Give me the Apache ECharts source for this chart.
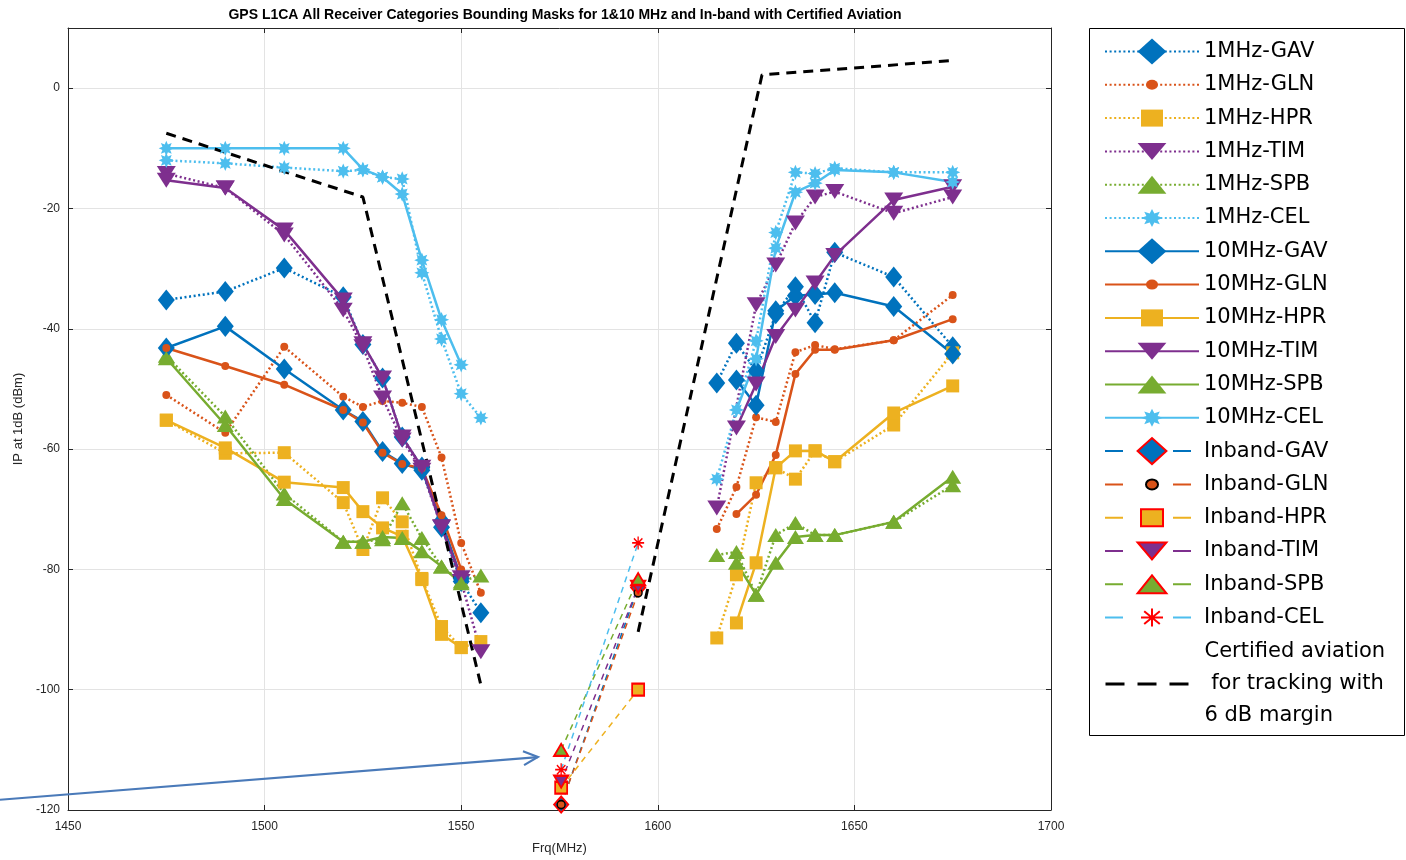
<!DOCTYPE html>
<html><head><meta charset="utf-8">
<script src="https://cdn.jsdelivr.net/npm/echarts@6/dist/echarts.min.js"></script>
<style>html,body{margin:0;padding:0;background:#fff}#c{width:1406px;height:860px}</style>
</head><body><div id="c"></div>
<script>
// ---------------- DATA ----------------
const freqLeft  = [1475, 1490, 1505, 1520, 1525, 1530, 1535, 1540, 1545, 1550, 1555];
const freqRight = [1615, 1620, 1625, 1630, 1635, 1640, 1645, 1660, 1675];

const gav1L  = [-35.2, -33.8, -29.9, -34.7, -42.6, -48.2, -58.0, -63.0, -73.0, -82.0, -87.2];
const gav1R  = [-49.0, -42.4, -47.0, -37.5, -33.0, -39.0, -27.3, -31.4, -43.0];
const gav10L = [-43.2, -39.6, -46.7, -53.5, -55.4, -60.4, -62.4, -63.5, -72.0, -81.5, null];
const gav10R = [null, -48.5, -52.7, -37.0, -34.5, -34.3, -34.0, -36.3, -44.2];

const gln1L  = [-51.0, -57.3, -43.0, -51.3, -53.0, -52.0, -52.3, -53.0, -61.4, -75.6, -83.9];
const gln1R  = [-73.3, -66.3, -54.7, -55.5, -43.9, -42.7, -43.4, -41.9, -34.4];
const gln10L = [-43.2, -46.2, -49.3, -53.5, -55.6, -60.6, -62.5, -63.2, -71.0, -80.0, null];
const gln10R = [null, -70.8, -67.6, -61.0, -47.5, -43.5, -43.5, -41.9, -38.4];

const hpr1L  = [-55.2, -60.7, -60.6, -68.9, -76.7, -68.1, -72.1, -81.5, -89.5, -93.0, -92.0];
const hpr1R  = [-91.4, -80.9, -65.6, -63.1, -65.0, -60.3, -62.1, -56.0, -44.0];
const hpr10L = [-55.2, -59.8, -65.5, -66.4, -70.4, -73.1, -74.5, -81.7, -90.8, -93.0, null];
const hpr10R = [null, -88.9, -78.9, -63.1, -60.3, -60.3, -62.1, -54.0, -49.5];

const tim1L  = [-14.2, -16.6, -24.4, -36.9, -43.0, -51.5, -58.5, -63.5, -73.0, -82.0, -93.7];
const tim1R  = [-69.8, null, -36.0, -29.4, -22.4, -18.1, -17.2, -20.8, -18.1];
const tim10L = [-15.3, -16.6, -23.6, -35.2, -42.5, -48.2, -58.0, -63.0, -72.9, -81.4, null];
const tim10R = [null, -56.5, -49.2, -41.3, -36.9, -32.4, -27.8, -18.6, -16.4];

const spb1L  = [-44.5, -54.6, -67.4, -75.4, -75.4, -75.0, -69.0, -74.8, -79.5, -82.0, -81.0];
const spb1R  = [-77.6, -77.1, -84.2, -74.3, -72.3, -74.3, -74.3, -72.1, -66.0];
const spb10L = [-44.9, -56.0, -68.3, -75.4, -75.4, -74.6, -74.8, -77.0, -79.5, -82.3, null];
const spb10R = [null, -78.9, -84.2, -78.9, -74.6, -74.3, -74.3, -72.1, -64.6];

const cel1L  = [-12.0, -12.5, -13.2, -13.8, -13.6, -14.8, -15.1, -30.7, -41.7, -50.8, -54.8];
const cel1R  = [-65.0, null, -42.0, -24.0, -14.0, -14.2, -13.3, -14.0, -14.0];
const cel10L = [-10.0, -10.0, -10.0, -10.0, -13.5, -14.8, -17.6, -28.6, -38.5, -46.0, null];
const cel10R = [null, -53.5, -45.0, -26.6, -17.3, -15.8, -13.6, -14.0, -15.6];

const inbandFreq = [1575.42, 1595];
const inbandGAV = [-119.1, -83.0];
const inbandGLN = [-119.1, -83.9];
const inbandHPR = [-116.3, -100.0];
const inbandTIM = [-115.3, -82.9];
const inbandSPB = [-110.0, -81.6];
const inbandCEL = [-113.3, -75.6];

const certFreqL = [1475, 1525, 1555];
const certL     = [-7.5, -18.1, -99.2];
const certFreqR = [1595, 1626.5, 1675];
const certR     = [-90.4, 2.2, 4.6];

const xTicks = [1450, 1700, 50];
const yTicks = [-120, 10, 20];

const arrowFrom = [1432.7, -118.3];
const arrowTo   = [1569.5, -111.2];

const titleText = 'GPS L1CA All Receiver Categories Bounding Masks for 1&10 MHz and In-band with Certified Aviation';
const certName = 'Certified aviation\n for tracking with\n6 dB margin';

// ---------------- STYLE ----------------
const colors = {GAV:'#0072BD', GLN:'#D95319', HPR:'#EDB120', TIM:'#7E2F8E', SPB:'#77AC30', CEL:'#4DBEEE'};
const FR = 'M-14.4,-14.4M14.4,14.4';
function starPath(n, rx, ry, inner){
  let s = '';
  for (let i = 0; i < 2*n; i++){
    const a = Math.PI * i / n - Math.PI/2;
    const k = i % 2 ? inner : 1;
    s += (i ? 'L' : 'M') + (rx*k*Math.cos(a)).toFixed(2) + ',' + (ry*k*Math.sin(a)).toFixed(2);
  }
  return s + 'Z';
}
const shapes = {
  GAV: 'path://' + FR + 'M-14.4,0L0,-13L14.4,0L0,13Z',
  GLN: 'path://' + FR + 'M-6,0A6,5,0,1,1,6,0A6,5,0,1,1,-6,0Z',
  HPR: 'path://' + FR + 'M-11,-8.5L11,-8.5L11,8.5L-11,8.5Z',
  TIM: 'path://' + FR + 'M-14.4,-8.5L14.4,-8.5L0,8.5Z',
  SPB: 'path://' + FR + 'M-14.4,9L14.4,9L0,-9Z',
  CEL: 'path://' + FR + starPath(8, 11, 9, 0.55),
  AST: 'path://' + FR + 'M0,-9L0,9M-11,0L11,0M-7.8,-6.4L7.8,6.4M-7.8,6.4L7.8,-6.4'
};
const plotSize = {GAV:[17,23.3], GLN:[19,23], HPR:[17,22], TIM:[19,25.4], SPB:[17,22.4], CEL:[20,24.5]};
const inbandSize = {GAV:[14,17.7], GLN:[19,23], HPR:[15.7,20.3], TIM:[14,20.3], SPB:[14,19.2], CEL:[15.7,20.8]};

function pts(fl, vl, fr, vr){
  const d = [];
  fl.forEach((f,i)=>{ if (vl[i] != null) d.push([f, vl[i]]); });
  d.push([1590, '-']);
  fr.forEach((f,i)=>{ if (vr[i] != null) d.push([f, vr[i]]); });
  return d;
}
function zip(f, v){ return f.map((x,i)=>[x, v[i]]); }

const dataSets = {
  GAV: [gav1L, gav1R, gav10L, gav10R, inbandGAV],
  GLN: [gln1L, gln1R, gln10L, gln10R, inbandGLN],
  HPR: [hpr1L, hpr1R, hpr10L, hpr10R, inbandHPR],
  TIM: [tim1L, tim1R, tim10L, tim10R, inbandTIM],
  SPB: [spb1L, spb1R, spb10L, spb10R, inbandSPB],
  CEL: [cel1L, cel1R, cel10L, cel10R, inbandCEL]
};
const cats = ['GAV','GLN','HPR','TIM','SPB','CEL'];

const series = [];
const legendData = [];
// 1 MHz dotted
cats.forEach(c=>{
  const name = '1MHz-' + c;
  series.push({
    name, type:'line', data: pts(freqLeft, dataSets[c][0], freqRight, dataSets[c][1]),
    symbol: shapes[c], symbolSize: plotSize[c], showAllSymbol: true,
    lineStyle: {color: colors[c], width: 2.5, type: [2, 2.6]},
    itemStyle: {color: colors[c], borderWidth: 0}
  });
  legendData.push({name});
});
// 10 MHz solid
cats.forEach(c=>{
  const name = '10MHz-' + c;
  series.push({
    name, type:'line', data: pts(freqLeft, dataSets[c][2], freqRight, dataSets[c][3]),
    symbol: shapes[c], symbolSize: plotSize[c], showAllSymbol: true,
    lineStyle: {color: colors[c], width: 2.5, type: 'solid'},
    itemStyle: {color: colors[c], borderWidth: 0}
  });
  legendData.push({name});
});
// In-band dashed
cats.forEach(c=>{
  const name = 'Inband-' + c;
  let item;
  if (c === 'GLN') item = {color: colors[c], borderColor: '#000', borderWidth: 1.5};
  else if (c === 'CEL') item = {color: 'rgba(0,0,0,0)', borderColor: '#ff0000', borderWidth: 1.5};
  else item = {color: colors[c], borderColor: '#ff0000', borderWidth: 2};
  series.push({
    name, type:'line', data: zip(inbandFreq, dataSets[c][4]),
    symbol: c === 'CEL' ? shapes.AST : shapes[c], symbolSize: inbandSize[c], showAllSymbol: true,
    lineStyle: {color: colors[c], width: 1.5, type: [6, 5]},
    itemStyle: item
  });
  legendData.push({name, lineStyle: {type: [18, 50]}});
});
// Certified aviation
series.push({
  name: certName, type:'line',
  data: pts(certFreqL, certL, certFreqR, certR),
  symbol: 'circle', showSymbol: false,
  lineStyle: {color: '#000', width: 3, type: [10, 7]},
  itemStyle: {color: '#000'}
});

const axisColor = '#262626';
const gridColor = '#e3e3e3';
const labelFont = {fontFamily: 'Liberation Sans', fontSize: 12, color: axisColor};

const chart = echarts.init(document.getElementById('c'), null, {renderer: 'canvas'});
chart.setOption({
  animation: false,
  backgroundColor: '#fff',
  title: {
    text: titleText, left: 560, top: 3, textAlign: 'center',
    textStyle: {fontFamily: 'Liberation Sans', fontSize: 14, fontWeight: 'bold', color: '#000'}
  },
  grid: {left: 68, right: 355, top: 28, bottom: 50, containLabel: false},
  xAxis: [{
    type: 'value', min: xTicks[0], max: xTicks[1], interval: xTicks[2], position: 'bottom',
    name: 'Frq(MHz)', nameLocation: 'middle', nameGap: 32,
    nameTextStyle: {fontFamily: 'Liberation Sans', fontSize: 13, color: axisColor},
    axisLine: {show: true, onZero: false, lineStyle: {color: axisColor, width: 1}},
    axisTick: {show: true, inside: true, length: 5, lineStyle: {color: axisColor}},
    axisLabel: Object.assign({margin: 11, formatter: v => String(v)}, labelFont),
    splitLine: {show: true, lineStyle: {color: gridColor, width: 1}}
  }, {
    type: 'value', min: xTicks[0], max: xTicks[1], interval: xTicks[2], position: 'top',
    axisLine: {show: true, onZero: false, lineStyle: {color: axisColor, width: 1}},
    axisTick: {show: true, inside: true, length: 5, lineStyle: {color: axisColor}},
    axisLabel: {show: false}, splitLine: {show: false}
  }],
  yAxis: [{
    type: 'value', min: yTicks[0], max: yTicks[1], interval: yTicks[2], position: 'left',
    name: 'IP at 1dB (dBm)', nameLocation: 'middle', nameGap: 41,
    nameTextStyle: {fontFamily: 'Liberation Sans', fontSize: 13, color: axisColor},
    axisLine: {show: true, onZero: false, lineStyle: {color: axisColor, width: 1}},
    axisTick: {show: true, inside: true, length: 5, lineStyle: {color: axisColor}},
    axisLabel: Object.assign({margin: 8, formatter: v => (v % 20 === 0 ? String(v) : '')}, labelFont),
    splitLine: {show: true, lineStyle: {color: gridColor, width: 1}}
  }, {
    type: 'value', min: yTicks[0], max: yTicks[1], interval: yTicks[2], position: 'right',
    axisLine: {show: true, onZero: false, lineStyle: {color: axisColor, width: 1}},
    axisTick: {show: true, inside: true, length: 5, lineStyle: {color: axisColor}},
    axisLabel: {show: false}, splitLine: {show: false}
  }],
  legend: [{
    orient: 'vertical', left: 1104, top: 35, padding: 0, itemGap: 0.3,
    itemWidth: 94, itemHeight: 36, selectedMode: false,
    textStyle: {fontFamily: 'DejaVu Sans', fontSize: 21, color: '#000', lineHeight: 33},
    data: legendData
  }, {
    orient: 'vertical', left: 1104, top: 636, padding: 0,
    itemWidth: 94, itemHeight: 36, selectedMode: false,
    textStyle: {fontFamily: 'DejaVu Sans', fontSize: 21, color: '#000', lineHeight: 32},
    data: [{name: certName, itemStyle: {color: 'rgba(0,0,0,0)', borderWidth: 0, opacity: 0},
            lineStyle: {type: [19, 13], width: 3, color: '#000'}}]
  }],
  series: series
});

const p0 = chart.convertToPixel({xAxisIndex: 0, yAxisIndex: 0}, arrowFrom);
const p1 = chart.convertToPixel({xAxisIndex: 0, yAxisIndex: 0}, arrowTo);
const ang = Math.atan2(p1[1] - p0[1], p1[0] - p0[0]);
const hl = 16, ha = 0.45;
const h1 = [p1[0] - hl*Math.cos(ang - ha), p1[1] - hl*Math.sin(ang - ha)];
const h2 = [p1[0] - hl*Math.cos(ang + ha), p1[1] - hl*Math.sin(ang + ha)];
chart.setOption({
  graphic: [
    {type: 'rect', z: 1, silent: true, shape: {x: 1089.5, y: 28.5, width: 315, height: 707},
     style: {fill: '#fff', stroke: '#000', lineWidth: 1}},
    {type: 'line', z: 100, silent: true, shape: {x1: p0[0], y1: p0[1], x2: p1[0], y2: p1[1]},
     style: {stroke: '#4a7ab9', lineWidth: 2.2}},
    {type: 'polyline', z: 100, silent: true, shape: {points: [h1, p1, h2]},
     style: {stroke: '#4a7ab9', lineWidth: 2.2, fill: null}}
  ]
});
</script>
</body></html>
